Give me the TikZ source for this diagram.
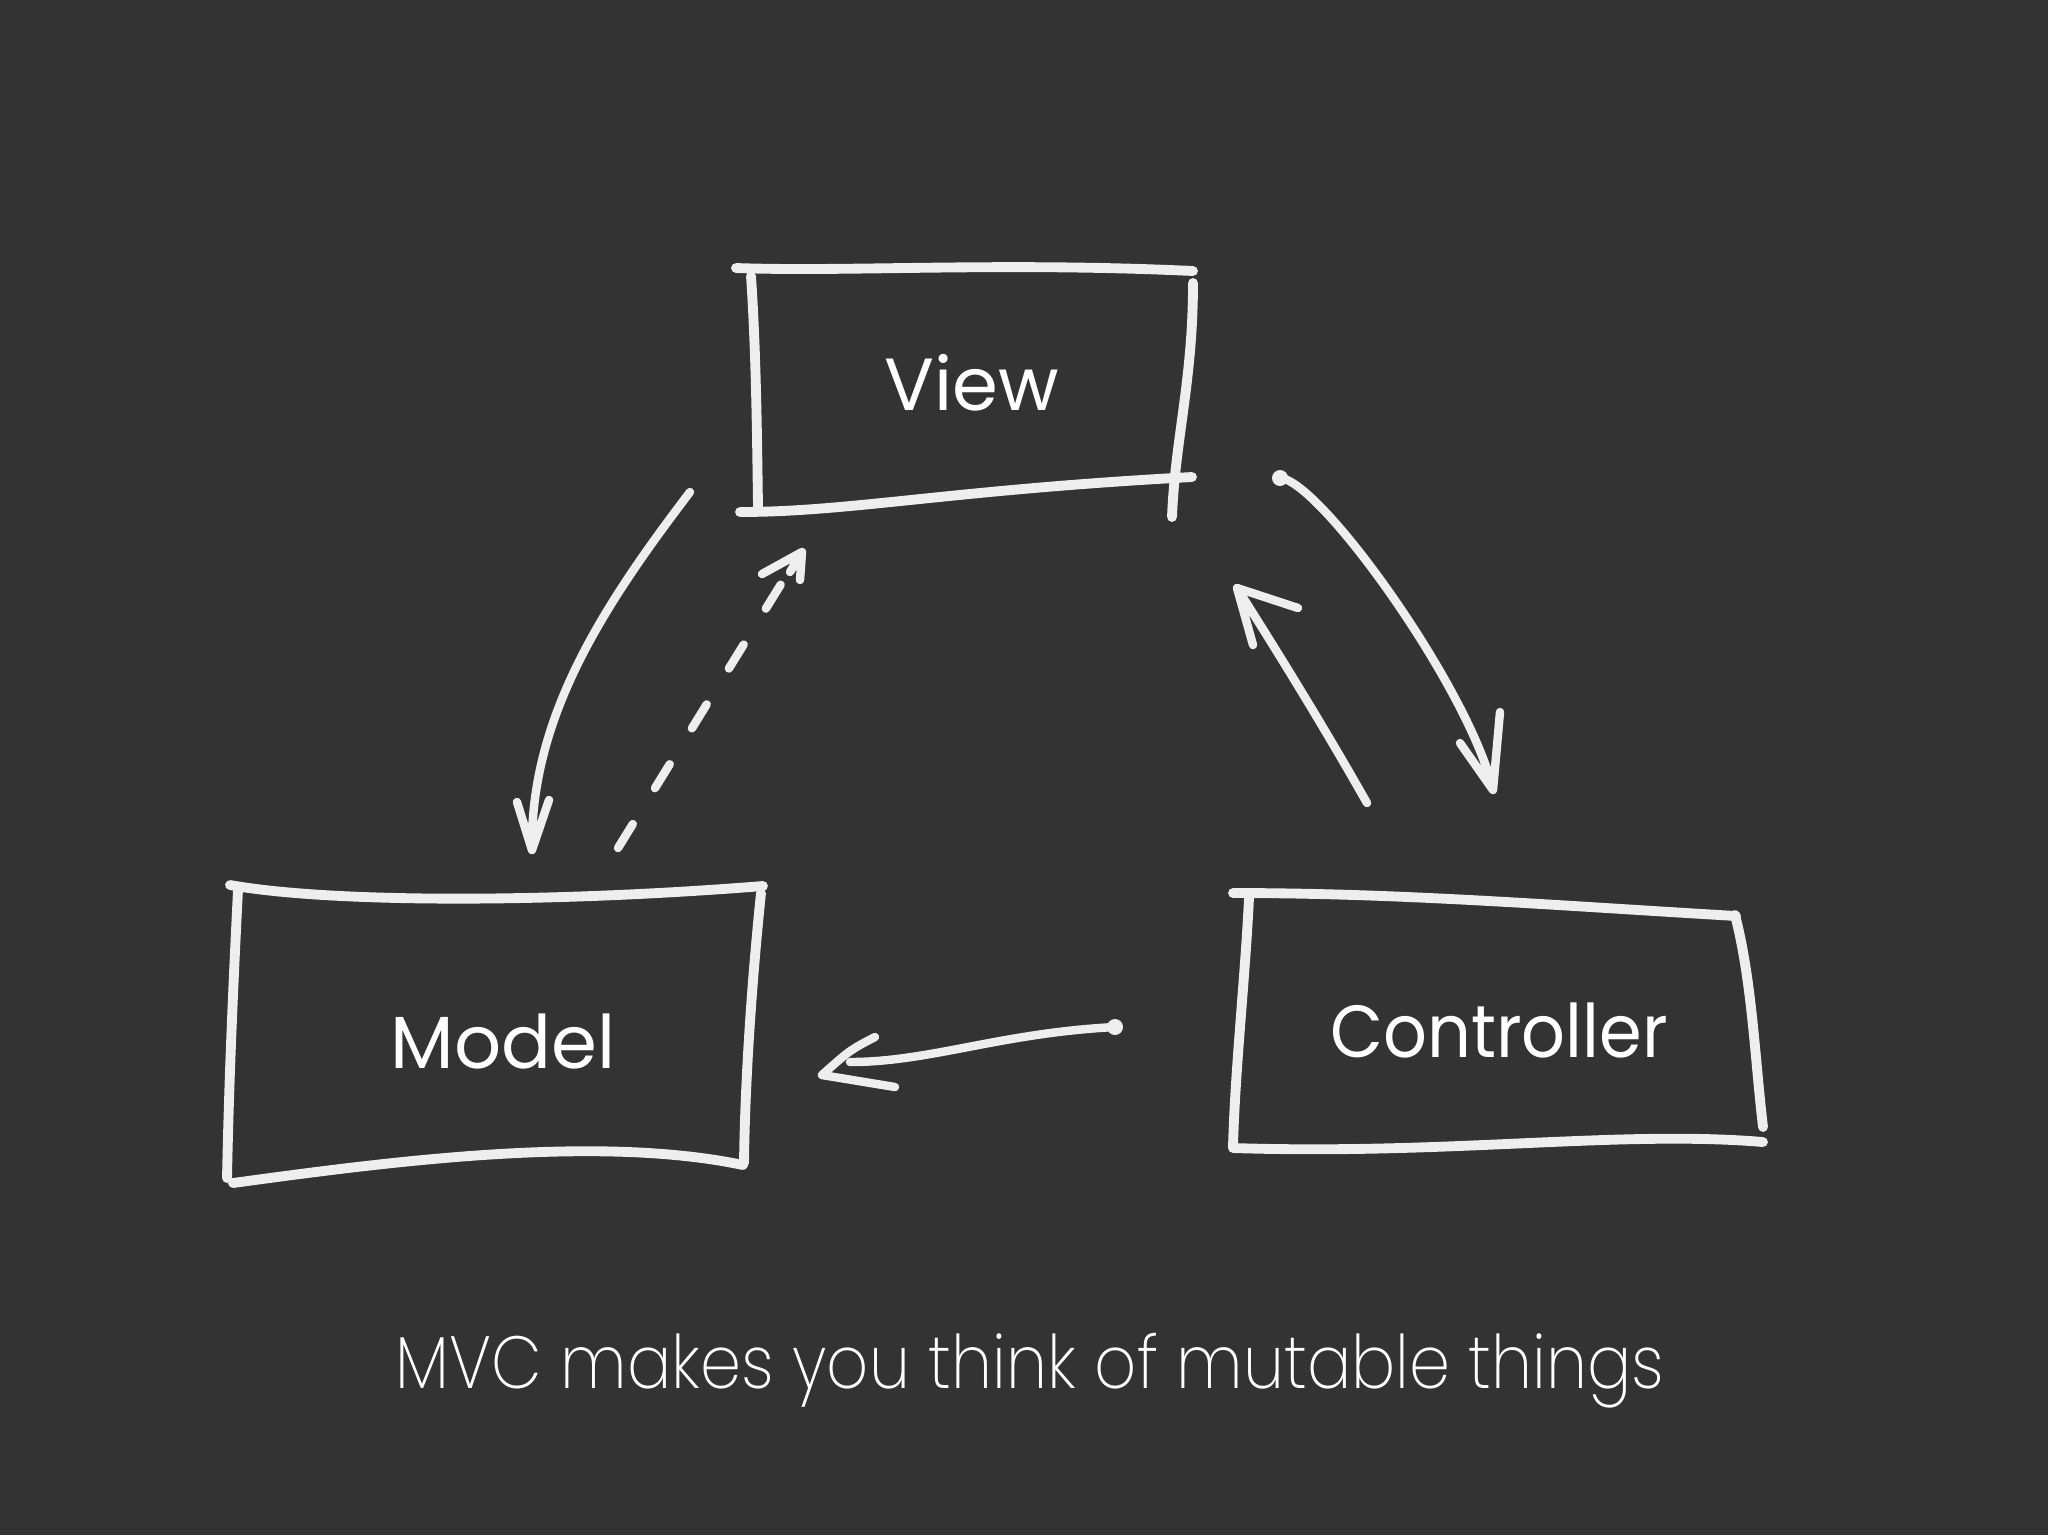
\documentclass[tikz,border=0pt]{standalone}
\usepackage{fontspec}
\setmainfont{Poppins}
\newfontfamily\thinfont{Poppins}[UprightFont=* ExtraLight]
\definecolor{board}{HTML}{333333}
\definecolor{chalkcol}{HTML}{EEEEEE}
\newcommand{\barbs}[3]% tip, first end, second end
{(#1) -- (#2) (#1) -- (#3)
}
\tikzset{
	chalk/.style={draw=chalkcol, line width=2.8pt, line cap=round, line join=round},
	chalkarrow/.style={chalk, line width=2.4pt},
	boxtext/.style={text=white, anchor=base, font=\fontsize{21}{25}\selectfont},
	captiontext/.style={text=white, anchor=base, xscale=0.89, font=\thinfont\fontsize{21}{25}\selectfont}
}

\begin{document}
\begin{tikzpicture}[x=0.01cm, y=-0.01cm]
		\fill[board] (0,0) rectangle (2048,1535);
		%cajas dibujadas a mano
		\draw[chalk] (736,268) .. controls (850,272) and (1000,262) .. (1193,271);
		\draw[chalk] (751,276) .. controls (756,350) and (757,430) .. (758,508);
		\draw[chalk] (740,512) .. controls (850,512) and (950,490) .. (1192,477);
		\draw[chalk] (1193,283) .. controls (1193,380) and (1175,440) .. (1172,517);

		\draw[chalk] (230,885) .. controls (330,903) and (550,903) .. (763,886);
		\draw[chalk] (238,890) .. controls (233,990) and (229,1080) .. (227,1178);
		\draw[chalk] (761,893) .. controls (752,980) and (745,1080) .. (744,1163);
		\draw[chalk] (233,1183) .. controls (400,1160) and (600,1135) .. (743,1165);

		\draw[chalk] (1233,893) .. controls (1400,893) and (1550,905) .. (1736,916);
		\draw[chalk] (1249,898) .. controls (1245,980) and (1235,1070) .. (1233,1147);
		\draw[chalk] (1735,915) .. controls (1752,980) and (1755,1060) .. (1763,1127);
		\draw[chalk] (1233,1148) .. controls (1450,1155) and (1620,1130) .. (1763,1142);

		\node[boxtext] (view) at (972,410) {View};
		\node[boxtext] (model) at (503,1068) {Model};
		\node[boxtext, xscale=0.93] (ctrl) at (1499,1057) {Controller};

		\coordinate (vm start) at (690,492);
		\coordinate (vm tip) at (532,850);
		\coordinate (mv start) at (618,848);
		\coordinate (mv tip) at (802,552);
		\coordinate (vc start) at (1280,478);
		\coordinate (vc tip) at (1493,790);
		\coordinate (cv start) at (1367,803);
		\coordinate (cv tip) at (1237,588);
		\coordinate (cm start) at (1115,1027);
		\coordinate (cm tip) at (822,1075);

		\draw[chalkarrow] (vm start) .. controls (600,610) and (530,720) .. (vm tip)
			\barbs{vm tip}{517,802}{549,800};
		\draw[chalkarrow, dash pattern=on 8pt off 12pt] (mv start) -- (786,576);
		\draw[chalkarrow] (mv tip) -- (790,572) \barbs{mv tip}{762,574}{800,580};
		\draw[chalkarrow] (vc start) .. controls (1320,480) and (1470,690) .. (vc tip)
			\barbs{vc tip}{1460,743}{1500,712};
		\fill[chalkcol] (vc start) circle (8);
		\draw[chalkarrow] (cv start) .. controls (1320,720) and (1270,640) .. (cv tip)
			\barbs{cv tip}{1253,645}{1298,608};
		\draw[chalkarrow] (cm start) .. controls (1000,1033) and (930,1062) .. (850,1062);
		\draw[chalkarrow] (875,1037) .. controls (850,1050) .. (cm tip) -- (895,1087);
		\fill[chalkcol] (cm start) circle (8);

		\node[captiontext] (caption) at (1030,1388) {MVC makes you think of mutable things};
	\end{tikzpicture}
\end{document}
